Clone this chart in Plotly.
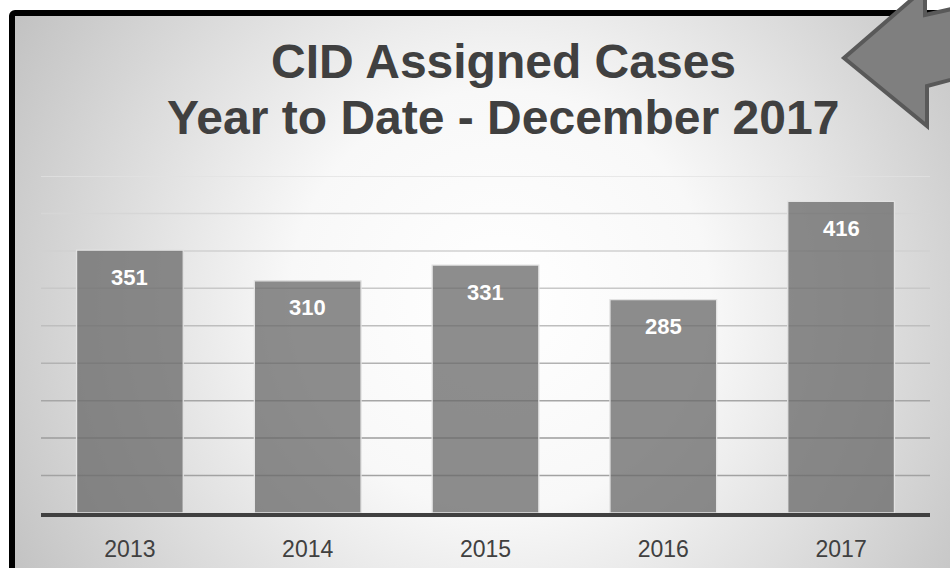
import base64
import plotly.graph_objects as go

# ---- data ----
years = ["2013", "2014", "2015", "2016", "2017"]
cases = [351, 310, 331, 285, 416]
grid_values = [50, 100, 150, 200, 250, 300, 350, 400, 450]
grid_colors = ["#a2a2a2", "#9c9c9c", "#a6a6a6", "#b2b2b2", "#bebebe",
               "#c8c8c8", "#d0d0d0", "#d6d6d6", "#e2e2e2"]
title_lines = ["CID Assigned Cases", "Year to Date - December 2017"]

W, H = 950, 568
FONT = "Liberation Sans, Arial, sans-serif"

# background: radial gradient slide with black frame
svg = f'''<svg xmlns="http://www.w3.org/2000/svg" width="{W}" height="{H}" viewBox="0 0 {W} {H}" preserveAspectRatio="none">
<defs><radialGradient id="g" gradientUnits="userSpaceOnUse" cx="500" cy="300" r="600">
<stop offset="0" stop-color="#ffffff"/><stop offset="0.35" stop-color="#f8f8f8"/><stop offset="1" stop-color="#bcbcbc"/>
</radialGradient></defs>
<rect x="0" y="0" width="{W}" height="{H}" fill="#ffffff"/>
<rect x="12" y="13" width="980" height="620" rx="3" fill="url(#g)" stroke="#000000" stroke-width="6"/>
</svg>'''
svg_uri = "data:image/svg+xml;base64," + base64.b64encode(svg.encode()).decode()

fig = go.Figure()
fig.add_trace(go.Bar(
    x=years, y=cases,
    marker=dict(color="rgba(105,105,105,0.76)", line=dict(color="#e2e2e2", width=1.3)),
    hoverinfo="skip",
))

for i, v in enumerate(cases):
    fig.add_annotation(x=i, y=v, xref="x", yref="y", text=f"<b>{v}</b>", showarrow=False,
                       yshift=-27, font=dict(family=FONT, size=22, color="#ffffff"),
                       yanchor="middle")

for gv, gc in zip(grid_values, grid_colors):
    fig.add_shape(type="line", xref="paper", yref="y", x0=41 / W, x1=930 / W, y0=gv, y1=gv,
                  line=dict(color=gc, width=1.5), layer="below")

# title lines
title_y = [61, 117]
for t, ty in zip(title_lines, title_y):
    fig.add_annotation(x=503 / W, y=1 - ty / H, xref="paper", yref="paper",
                       text=f"<b>{t}</b>", showarrow=False, xanchor="center", yanchor="middle",
                       font=dict(family=FONT, size=48, color="#404040"))

# decorative arrow (top right)
pts = [(844, 58), (927, 126), (927, 86), (965, 76), (965, 6), (925, 15), (925, -12)]
path = "M " + " L ".join(f"{x / W:.5f},{1 - y / H:.5f}" for x, y in pts) + " Z"
fig.add_shape(type="path", xref="paper", yref="paper", path=path,
              fillcolor="#7f7f7f", line=dict(color="#595959", width=4), layer="above")

fig.update_layout(
    width=W, height=H,
    margin=dict(l=0, r=0, t=0, b=0, autoexpand=False),
    paper_bgcolor="#ffffff", plot_bgcolor="rgba(0,0,0,0)",
    bargap=0.4, showlegend=False,
    images=[dict(source=svg_uri, xref="paper", yref="paper", x=0, y=1, sizex=1, sizey=1,
                 sizing="stretch", xanchor="left", yanchor="top", layer="below")],
    xaxis=dict(type="category", domain=[41 / W, 930 / W], range=[-0.5, len(years) - 0.5],
               showgrid=False, showline=True,
               linecolor="#404040", linewidth=4, ticks="", automargin=False,
               tickfont=dict(family=FONT, size=23, color="#404040"),
               ticklabelstandoff=12, fixedrange=True),
    yaxis=dict(domain=[1 - 513 / H, 1 - 176 / H], range=[0, 450], showgrid=False, zeroline=False,
               showticklabels=False, ticks="", automargin=False, fixedrange=True),
)

fig.write_html("out.html", config={"displayModeBar": False},
               post_script="document.body.style.margin='0';document.body.style.overflow='hidden';")
